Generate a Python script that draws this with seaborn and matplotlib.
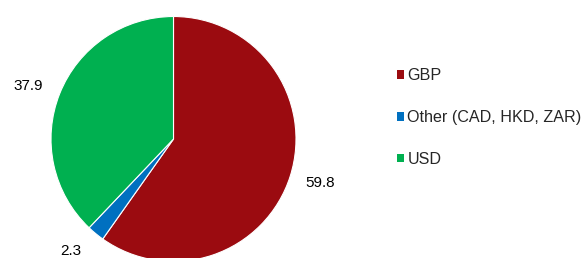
import matplotlib
matplotlib.use("Agg")
import numpy as np
import matplotlib.pyplot as plt
import seaborn as sns
from matplotlib.patches import Patch

categories = ["GBP", "Other (CAD, HKD, ZAR)", "USD"]
values = [59.8, 2.3, 37.9]
value_labels = ["59.8", "2.3", "37.9"]
colors = ["#9B0B10", "#0070C0", "#00B050"]

sns.set_style("white")
plt.rcParams['font.family'] = ['Liberation Sans', 'DejaVu Sans']

fig = plt.figure(figsize=(5.82, 2.58), dpi=100)
W, H = 582, 258
cx, cy, r = 173.5, 139, 122.5
ax = fig.add_axes([(cx - r) / W, (H - cy - r) / H, 2 * r / W, 2 * r / H])
ax.set_xlim(-1, 1)
ax.set_ylim(-1, 1)
ax.set_aspect('equal')
ax.axis('off')

wedges, texts = ax.pie(values, colors=sns.color_palette(colors), startangle=90,
                       counterclock=False, labels=value_labels, labeldistance=1.25,
                       radius=1, frame=False,
                       wedgeprops=dict(edgecolor='white', linewidth=0.8),
                       textprops=dict(fontsize=11, color='#000000'))
# fine-tune label placement (angle offset in degrees, distance in radii)
label_adjust = [(0.9, 1.25), (-2.9, 1.24), (1.8, 1.26)]
for w, t, (da, dist) in zip(wedges, texts, label_adjust):
    ang = np.deg2rad((w.theta1 + w.theta2) / 2 + da)
    t.set_position((dist * np.cos(ang), dist * np.sin(ang)))
    t.set_ha('center')
    t.set_va('center')
ax.set_xlim(-1, 1)
ax.set_ylim(-1, 1)

handles = [Patch(facecolor=c, edgecolor='none') for c in colors]
fig.legend(handles, categories, loc='center left',
           bbox_to_anchor=(397 / W, (H - 117.5) / H), frameon=False,
           fontsize=11.6, handlelength=0.45, handleheight=0.45,
           handletextpad=0.2, labelspacing=1.65, borderpad=0, borderaxespad=0)

fig.savefig("out.png", dpi=100)
